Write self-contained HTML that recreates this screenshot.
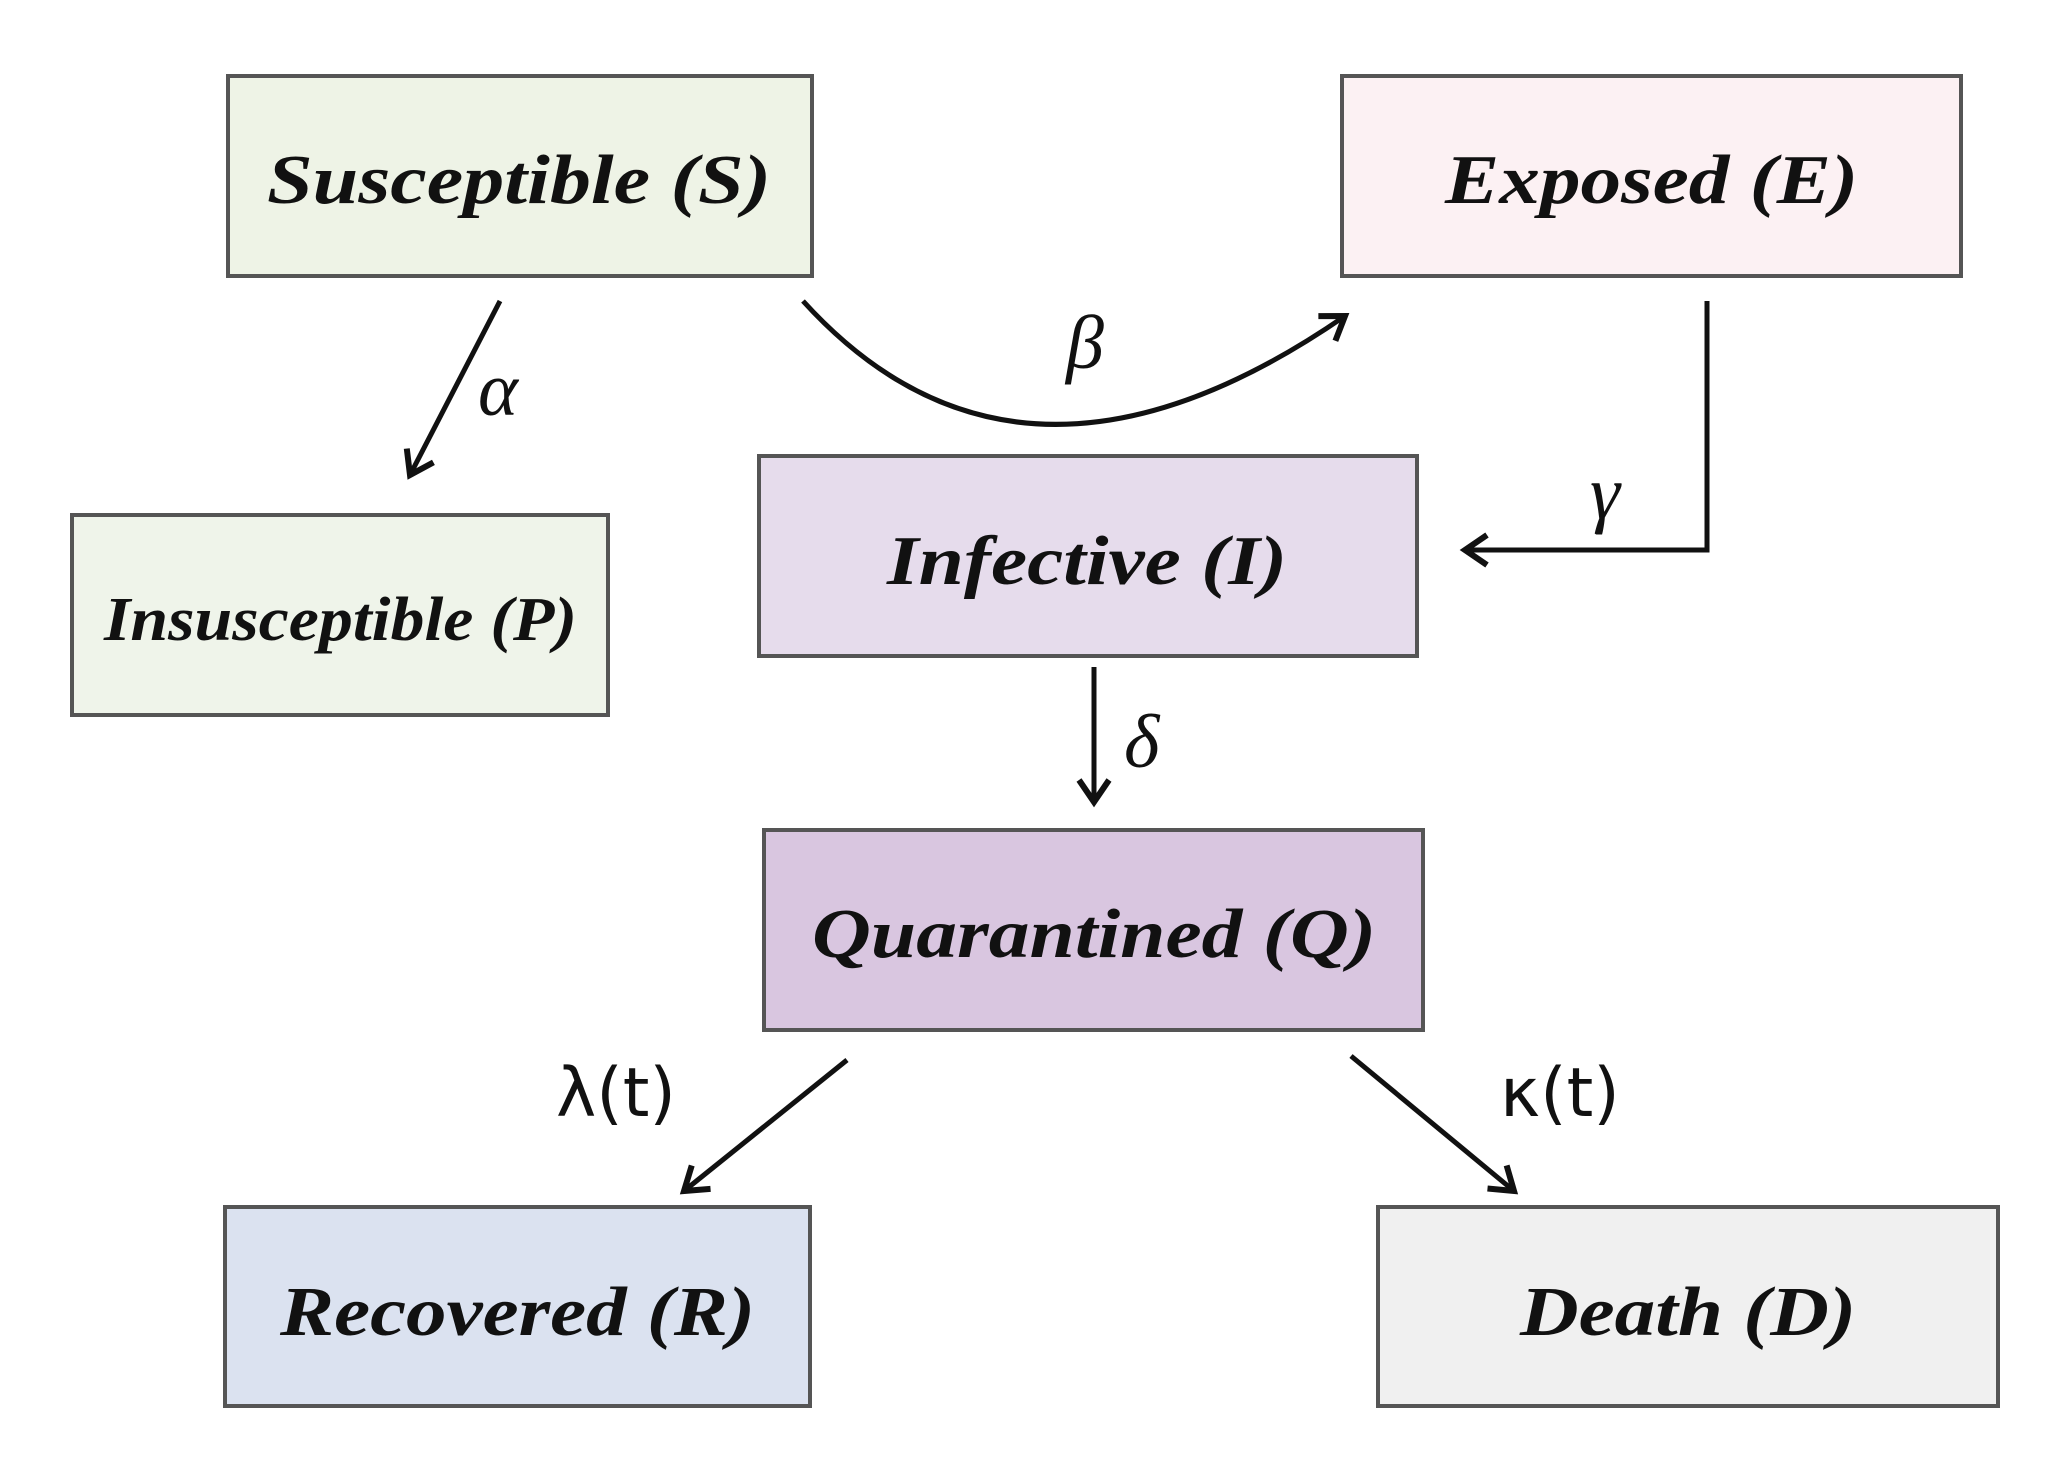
<!DOCTYPE html>
<html><head><meta charset="utf-8"><style>
html,body{margin:0;padding:0;background:#fff;}
svg{display:block;}
.t{font-family:"Liberation Serif",serif;font-weight:bold;font-style:italic;font-size:70px;fill:#111;}
.g{font-family:"Liberation Serif","DejaVu Serif",serif;font-style:italic;font-size:76px;fill:#111;}
.r{font-family:"DejaVu Sans","Liberation Sans",sans-serif;font-size:68px;fill:#111;}
rect{stroke:#555;stroke-width:4;}
.a{stroke:#111;stroke-width:5;fill:none;}
</style></head><body>
<svg width="2070" height="1457" viewBox="0 0 2070 1457">
<defs>
<marker id="h" markerWidth="44" markerHeight="44" refX="30" refY="22" orient="auto" markerUnits="userSpaceOnUse"><path d="M8,7 L30,22 L8,37" fill="none" stroke="#111" stroke-width="6"/></marker></defs>
<rect x="228" y="76" width="584" height="200" fill="#eef3e6"/>
<rect x="1342" y="76" width="619" height="200" fill="#fcf1f3"/>
<rect x="72" y="515" width="536" height="200" fill="#eff4ea"/>
<rect x="759" y="456" width="658" height="200" fill="#e6dcec"/>
<rect x="764" y="830" width="659" height="200" fill="#d9c6e0"/>
<rect x="225" y="1207" width="585" height="199" fill="#dbe2f0"/>
<rect x="1378" y="1207" width="620" height="199" fill="#f0f0f0"/>
<text class="t" x="267" y="203" textLength="504" lengthAdjust="spacingAndGlyphs">Susceptible (S)</text>
<text class="t" x="1445" y="203" textLength="413" lengthAdjust="spacingAndGlyphs">Exposed (E)</text>
<text class="t" x="104" y="640" textLength="473" lengthAdjust="spacingAndGlyphs" style="font-size:62px">Insusceptible (P)</text>
<text class="t" x="887" y="584" textLength="400" lengthAdjust="spacingAndGlyphs">Infective (I)</text>
<text class="t" x="812" y="957" textLength="564" lengthAdjust="spacingAndGlyphs">Quarantined (Q)</text>
<text class="t" x="280" y="1335" textLength="475" lengthAdjust="spacingAndGlyphs">Recovered (R)</text>
<text class="t" x="1520" y="1335" textLength="336" lengthAdjust="spacingAndGlyphs">Death (D)</text>
<line class="a" x1="500" y1="301" x2="410" y2="475" marker-end="url(#h)"/>
<path class="a" d="M803,301 Q1020,540 1345,316" marker-end="url(#h)"/>
<polyline class="a" points="1707,301 1707,550 1465,550" marker-end="url(#h)"/>
<line class="a" x1="1094" y1="667" x2="1094" y2="802" marker-end="url(#h)"/>
<line class="a" x1="847" y1="1060" x2="684" y2="1191" marker-end="url(#h)"/>
<line class="a" x1="1351" y1="1056" x2="1514" y2="1191" marker-end="url(#h)"/>
<text class="g" x="478" y="415">α</text>
<text class="g" x="1066" y="368">β</text>
<text class="g" x="1590" y="518">γ</text>
<text class="g" x="1124" y="767">δ</text>
<text class="r" x="556" y="1116">λ(t)</text>
<text class="r" x="1500" y="1116">κ(t)</text>
</svg>
</body></html>
